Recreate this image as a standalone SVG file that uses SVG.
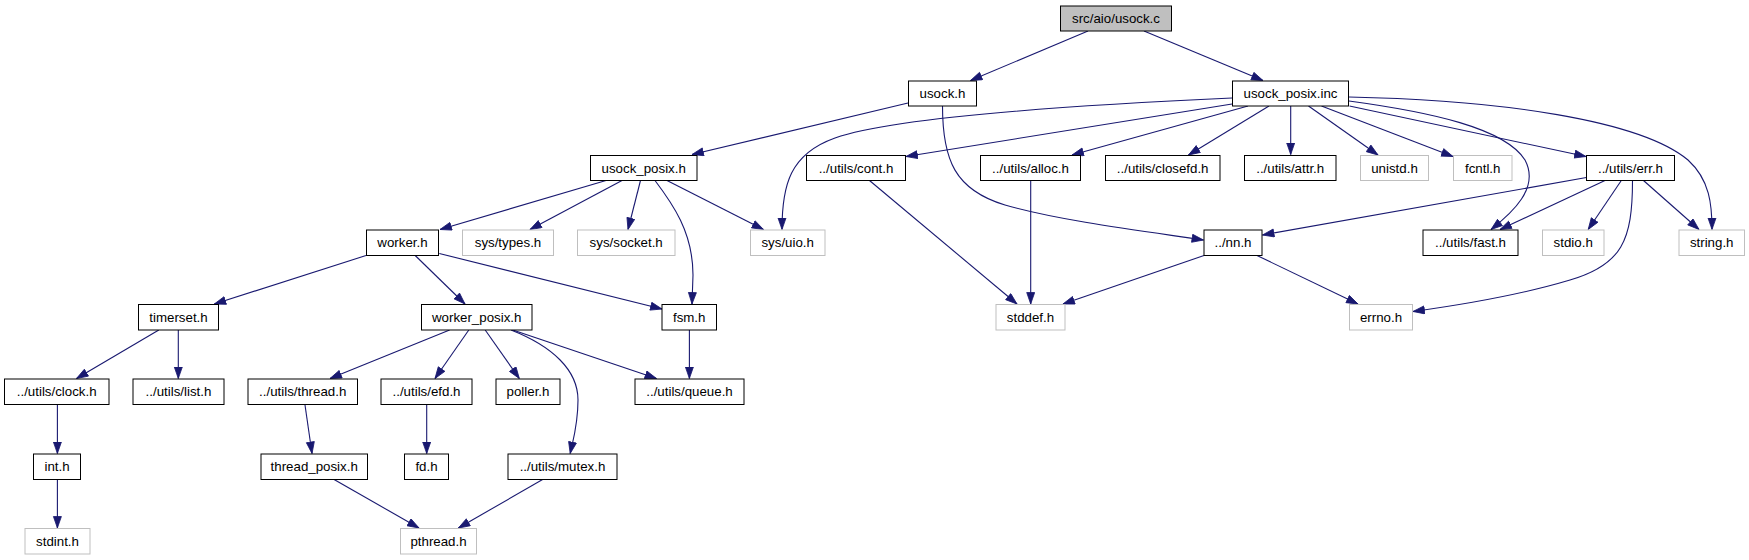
<svg xmlns="http://www.w3.org/2000/svg" width="1749" height="560" viewBox="0 0 1749 560">
<style>
.n rect{fill:#fff;stroke:#000;stroke-width:1}
.n.x rect{stroke:#bfbfbf}
.n.r rect{fill:#bfbfbf}
.n text{font-family:"Liberation Sans",Arial,Helvetica,sans-serif;font-size:13.3px;fill:#000;text-anchor:middle}
#edges path{fill:none;stroke:#191970;stroke-width:1.1;marker-end:url(#ah)}
</style>
<defs>
<marker id="ah" markerUnits="userSpaceOnUse" markerWidth="13" markerHeight="10" refX="12" refY="4.5" orient="auto">
<path d="M0.5,0.5 L12,4.5 L0.5,8.5 z" fill="#191970" stroke="#191970" stroke-width="0.8"/>
</marker>
</defs>
<rect width="1749" height="560" fill="#fff"/>
<g id="edges">
<path d="M1088,31 L970.5,80.5"/>
<path d="M1144,31 L1263,80.5"/>
<path d="M908,103 L692,154.5"/>
<path d="M942.5,106 C942.5,160 955,190 1005,205 C1060,221 1150,232 1203.5,240"/>
<path d="M1232,98 C1100,104 900,115 835,138 C790,154 782,185 782,229.5"/>
<path d="M1232,104 L906,156.5"/>
<path d="M1248,106 L1072,155"/>
<path d="M1269,106 L1188.5,155"/>
<path d="M1290.7,106 L1290.7,154.5"/>
<path d="M1308.5,106 L1378,155"/>
<path d="M1321.5,106 L1453,156.5"/>
<path d="M1349.5,106 L1586,156.5"/>
<path d="M1349,101 C1430,112 1505,128 1525,160 C1540,188 1512,213 1491,229.5"/>
<path d="M1349,97 C1500,100 1640,120 1688,160 C1710,180 1712,205 1712,229.5"/>
<path d="M606,180.5 L440,229.5"/>
<path d="M622,180.5 L530,229.5"/>
<path d="M640.5,180.5 L628,229.5"/>
<path d="M655,180.5 C672,203 693,232 693,275 L692,304"/>
<path d="M667,180.5 L763.5,229.5"/>
<path d="M869.5,180.5 L1017,304"/>
<path d="M1030.7,180.5 L1030.7,304"/>
<path d="M1204,255.5 L1063,304"/>
<path d="M1257,255.5 L1358,304"/>
<path d="M1586.4,177.5 L1262.5,235"/>
<path d="M1605,180.5 L1500,229.5"/>
<path d="M1621.3,180.5 L1588.2,229.5"/>
<path d="M1632.5,180.5 C1632.5,240 1622,265 1570,280 C1520,295 1460,305 1413,311.5"/>
<path d="M1643.5,180.5 L1699,229.5"/>
<path d="M366,255.5 L214.3,304"/>
<path d="M415.2,255.5 L465,304"/>
<path d="M439.3,253.5 L662,309"/>
<path d="M158.8,330 L76.5,378.5"/>
<path d="M178.3,330 L178.3,378.5"/>
<path d="M449.6,330 L330,378.5"/>
<path d="M468.8,330 L435,378.5"/>
<path d="M485.2,330 L519.3,378.5"/>
<path d="M511,330 C552,346 578,370 578,400 C578,425 573,440 570.2,453.5"/>
<path d="M512.8,330 L656.5,378.5"/>
<path d="M689.4,330 L689.4,378.5"/>
<path d="M57.4,405 L57.4,453.5"/>
<path d="M57.4,479.5 L57.4,528"/>
<path d="M305,405 L312,453.5"/>
<path d="M426.7,405 L426.7,453.5"/>
<path d="M334.1,479.5 L419,528"/>
<path d="M542.6,479.5 L458.4,528"/>
</g>
<g id="n_usock_c" class="n r"><rect x="1060.5" y="6" width="111" height="25"/><text x="1116" y="23">src/aio/usock.c</text></g>
<g id="n_usock_h" class="n"><rect x="908.5" y="81" width="68" height="25"/><text x="942.5" y="98">usock.h</text></g>
<g id="n_usock_posix_inc" class="n"><rect x="1232.5" y="81" width="116" height="25"/><text x="1290.5" y="98">usock_posix.inc</text></g>
<g id="n_usock_posix_h" class="n"><rect x="590.5" y="155.5" width="106.5" height="25"/><text x="643.7" y="172.5">usock_posix.h</text></g>
<g id="n_cont" class="n"><rect x="806.5" y="155.5" width="99" height="25"/><text x="856" y="172.5">../utils/cont.h</text></g>
<g id="n_alloc" class="n"><rect x="980.5" y="155.5" width="100" height="25"/><text x="1030.5" y="172.5">../utils/alloc.h</text></g>
<g id="n_closefd" class="n"><rect x="1105.5" y="155.5" width="114.5" height="25"/><text x="1162.7" y="172.5">../utils/closefd.h</text></g>
<g id="n_attr" class="n"><rect x="1244.5" y="155.5" width="91.5" height="25"/><text x="1290.2" y="172.5">../utils/attr.h</text></g>
<g id="n_unistd" class="n x"><rect x="1360.5" y="155.5" width="68" height="25"/><text x="1394.5" y="172.5">unistd.h</text></g>
<g id="n_fcntl" class="n x"><rect x="1453.5" y="155.5" width="58.5" height="25"/><text x="1482.7" y="172.5">fcntl.h</text></g>
<g id="n_err" class="n"><rect x="1586.5" y="155.5" width="88" height="25"/><text x="1630.5" y="172.5">../utils/err.h</text></g>
<g id="n_worker" class="n"><rect x="366.5" y="230" width="72" height="25.5"/><text x="402.5" y="247">worker.h</text></g>
<g id="n_systypes" class="n x"><rect x="462.5" y="230" width="91" height="25.5"/><text x="508" y="247">sys/types.h</text></g>
<g id="n_syssocket" class="n x"><rect x="577.5" y="230" width="97.5" height="25.5"/><text x="626.2" y="247">sys/socket.h</text></g>
<g id="n_sysuio" class="n x"><rect x="750.5" y="230" width="74.5" height="25.5"/><text x="787.7" y="247">sys/uio.h</text></g>
<g id="n_nn" class="n"><rect x="1204" y="230" width="58" height="25.5"/><text x="1233" y="247">../nn.h</text></g>
<g id="n_fast" class="n"><rect x="1423" y="230" width="95" height="25.5"/><text x="1470.5" y="247">../utils/fast.h</text></g>
<g id="n_stdio" class="n x"><rect x="1542.5" y="230" width="61.5" height="25.5"/><text x="1573.2" y="247">stdio.h</text></g>
<g id="n_string" class="n x"><rect x="1679" y="230" width="65.5" height="25.5"/><text x="1711.7" y="247">string.h</text></g>
<g id="n_timerset" class="n"><rect x="138.5" y="304.5" width="80" height="25.5"/><text x="178.5" y="321.5">timerset.h</text></g>
<g id="n_worker_posix" class="n"><rect x="421.5" y="304.5" width="110.5" height="25.5"/><text x="476.7" y="321.5">worker_posix.h</text></g>
<g id="n_fsm" class="n"><rect x="662" y="304.5" width="54.5" height="25.5"/><text x="689.2" y="321.5">fsm.h</text></g>
<g id="n_stddef" class="n x"><rect x="996" y="304.5" width="69" height="25.5"/><text x="1030.5" y="321.5">stddef.h</text></g>
<g id="n_errno" class="n x"><rect x="1349.5" y="304.5" width="63" height="25.5"/><text x="1381" y="321.5">errno.h</text></g>
<g id="n_clock" class="n"><rect x="4.5" y="379" width="104.5" height="25.5"/><text x="56.7" y="396">../utils/clock.h</text></g>
<g id="n_list" class="n"><rect x="133" y="379" width="91" height="25.5"/><text x="178.5" y="396">../utils/list.h</text></g>
<g id="n_thread" class="n"><rect x="248" y="379" width="109.5" height="25.5"/><text x="302.7" y="396">../utils/thread.h</text></g>
<g id="n_efd" class="n"><rect x="381" y="379" width="91" height="25.5"/><text x="426.5" y="396">../utils/efd.h</text></g>
<g id="n_poller" class="n"><rect x="496" y="379" width="64" height="25.5"/><text x="528" y="396">poller.h</text></g>
<g id="n_queue" class="n"><rect x="635" y="379" width="109" height="25.5"/><text x="689.5" y="396">../utils/queue.h</text></g>
<g id="n_int" class="n"><rect x="33.5" y="454" width="47" height="25.5"/><text x="57" y="471">int.h</text></g>
<g id="n_thread_posix" class="n"><rect x="261" y="454" width="106.5" height="25.5"/><text x="314.2" y="471">thread_posix.h</text></g>
<g id="n_fd" class="n"><rect x="404.5" y="454" width="44" height="25.5"/><text x="426.5" y="471">fd.h</text></g>
<g id="n_mutex" class="n"><rect x="508" y="454" width="109" height="25.5"/><text x="562.5" y="471">../utils/mutex.h</text></g>
<g id="n_stdint" class="n x"><rect x="25" y="528.5" width="65" height="25.5"/><text x="57.5" y="545.5">stdint.h</text></g>
<g id="n_pthread" class="n x"><rect x="400.5" y="528.5" width="76" height="25.5"/><text x="438.5" y="545.5">pthread.h</text></g>
</svg>
